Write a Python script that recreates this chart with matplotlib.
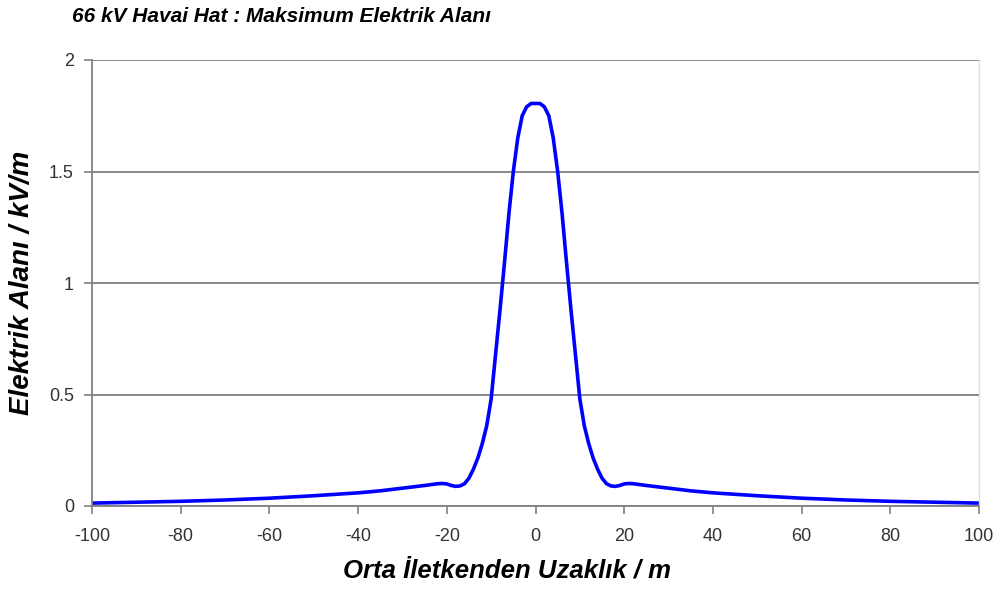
import matplotlib
matplotlib.use("Agg")
import matplotlib.pyplot as plt

# Data
distance_m = [-100, -90, -80, -70, -60, -50, -40, -35, -30, -25, -22, -21, -20, -19, -18,
              -17, -16, -15, -14, -13, -12, -11, -10, -9, -8, -7, -6, -5, -4, -3, -2, -1,
              0, 1, 2, 3, 4, 5, 6, 7, 8, 9, 10, 11, 12, 13, 14, 15, 16, 17, 18, 19, 20,
              21, 22, 25, 30, 35, 40, 50, 60, 70, 80, 90, 100]
field_kv_m = [0.013, 0.017, 0.021, 0.027, 0.035, 0.046, 0.059, 0.068, 0.080, 0.092, 0.100,
              0.101, 0.099, 0.092, 0.088, 0.090, 0.100, 0.125, 0.165, 0.215, 0.280, 0.360,
              0.480, 0.680, 0.880, 1.090, 1.310, 1.500, 1.650, 1.750, 1.790, 1.805,
              1.805, 1.805, 1.790, 1.750, 1.650, 1.500, 1.310, 1.090, 0.880, 0.680, 0.480,
              0.360, 0.280, 0.215, 0.165, 0.125, 0.100, 0.090, 0.088, 0.092, 0.099,
              0.101, 0.100, 0.092, 0.080, 0.068, 0.059, 0.046, 0.035, 0.027, 0.021,
              0.017, 0.013]

x_ticks = [-100, -80, -60, -40, -20, 0, 20, 40, 60, 80, 100]
y_ticks = [0, 0.5, 1, 1.5, 2]
y_tick_labels = ["0", "0.5", "1", "1.5", "2"]

title = "66 kV Havai Hat : Maksimum Elektrik Alanı"
xlabel = "Orta İletkenden Uzaklık / m"
ylabel = "Elektrik Alanı / kV/m"

plt.rcParams['font.family'] = ['Liberation Sans', 'DejaVu Sans']

fig = plt.figure(figsize=(10.01, 5.90), dpi=100)
ax = fig.add_axes([92 / 1001, 1 - 506 / 590, (979 - 92) / 1001, (506 - 60) / 590])

ax.plot(distance_m, field_kv_m, color='#0000ff', linewidth=2.6, solid_joinstyle='round')

ax.set_xlim(-100, 100)
ax.set_ylim(0, 2)
ax.set_xticks(x_ticks)
ax.set_xticklabels([str(t) for t in x_ticks])
ax.set_yticks(y_ticks)
ax.set_yticklabels(y_tick_labels)

ax.yaxis.grid(True, color='#808080', linewidth=1.3)
ax.set_axisbelow(True)

for side in ['left', 'bottom']:
    ax.spines[side].set_color('#808080')
    ax.spines[side].set_linewidth(1.3)
ax.spines['top'].set_visible(False)
ax.spines['right'].set_color('#e0e0e0')
ax.spines['right'].set_linewidth(1.0)

ax.tick_params(axis='both', colors='#808080', labelcolor='#333333', labelsize=13,
               length=6, width=1.2, direction='out')
ax.tick_params(axis='x', pad=10)
ax.tick_params(axis='y', pad=7)

fig.text(72 / 1001, 1 - 17 / 590, title, fontsize=15, fontweight='bold', fontstyle='italic',
         ha='left', va='center')
ax.set_xlabel(xlabel, fontsize=18.5, fontweight='bold', fontstyle='italic', va='center')
ax.xaxis.set_label_coords((507 - 92) / 887, (506 - 571) / 446)
ax.set_ylabel(ylabel, fontsize=20, fontweight='bold', fontstyle='italic', va='center')
ax.yaxis.set_label_coords((22 - 92) / 887, 0.5)

fig.savefig("out.png", dpi=100, facecolor='white')
